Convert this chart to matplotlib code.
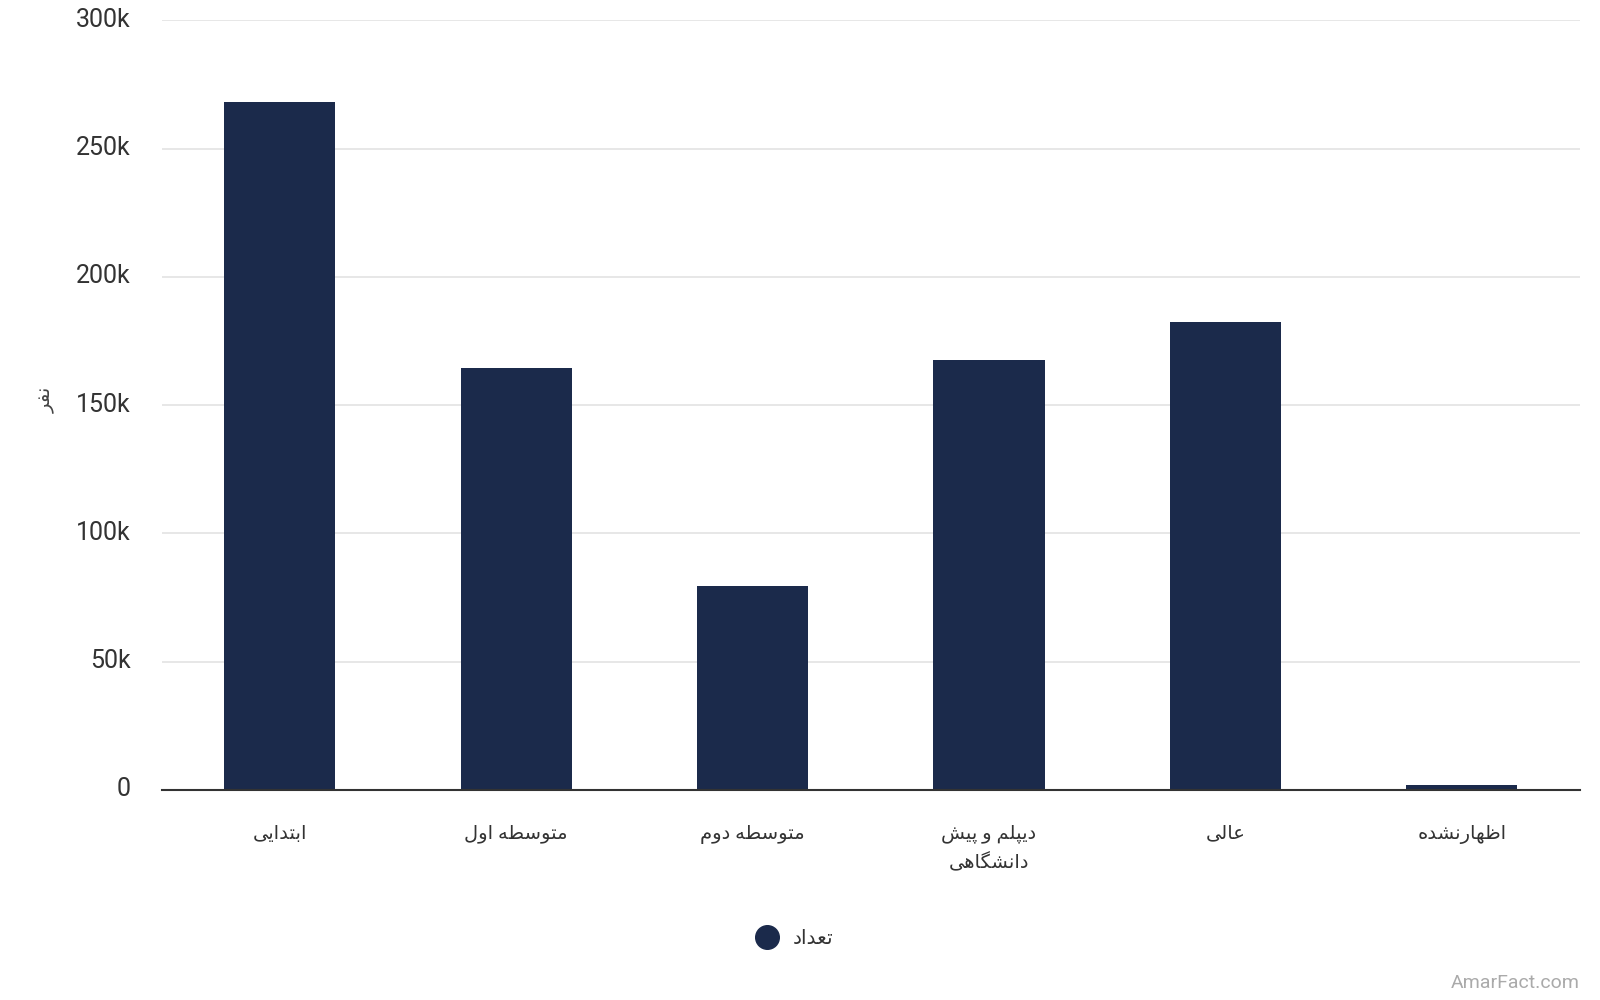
import matplotlib
matplotlib.use("Agg")
import matplotlib.pyplot as plt
import matplotlib.transforms as mtransforms
from matplotlib.ticker import FuncFormatter
from matplotlib.lines import Line2D

plt.rcParams['font.family'] = ['Roboto', 'DejaVu Sans']

# data
categories = ["ابتدایی", "متوسطه اول", "متوسطه دوم", "دیپلم و پیش\nدانشگاهی", "عالی", "اظهارنشده"]
counts = [268000, 164500, 79500, 167500, 182500, 2000]
y_ticks = [0, 50000, 100000, 150000, 200000, 250000, 300000]
series_name = "تعداد"
y_title = "نفر"
watermark = "AmarFact.com"

# minimal persian shaping (no arabic_reshaper available)
# letter: (isolated, final, initial, medial); None initial = right-joining only
FORMS = {
    'ا': ('\uFE8D', '\uFE8E', None, None),
    'ب': ('\uFE8F', '\uFE90', '\uFE91', '\uFE92'),
    'ت': ('\uFE95', '\uFE96', '\uFE97', '\uFE98'),
    'د': ('\uFEA9', '\uFEAA', None, None),
    'ر': ('\uFEAD', '\uFEAE', None, None),
    'س': ('\uFEB1', '\uFEB2', '\uFEB3', '\uFEB4'),
    'ش': ('\uFEB5', '\uFEB6', '\uFEB7', '\uFEB8'),
    'ط': ('\uFEC1', '\uFEC2', '\uFEC3', '\uFEC4'),
    'ظ': ('\uFEC5', '\uFEC6', '\uFEC7', '\uFEC8'),
    'ع': ('\uFEC9', '\uFECA', '\uFECB', '\uFECC'),
    'ف': ('\uFED1', '\uFED2', '\uFED3', '\uFED4'),
    'ل': ('\uFEDD', '\uFEDE', '\uFEDF', '\uFEE0'),
    'م': ('\uFEE1', '\uFEE2', '\uFEE3', '\uFEE4'),
    'ن': ('\uFEE5', '\uFEE6', '\uFEE7', '\uFEE8'),
    'ه': ('\uFEE9', '\uFEEA', '\uFEEB', '\uFEEC'),
    'و': ('\uFEED', '\uFEEE', None, None),
    'ی': ('\uFBFC', '\uFBFD', '\uFBFE', '\uFBFF'),
    'پ': ('\uFB56', '\uFB57', '\uFB58', '\uFB59'),
    'گ': ('\uFB92', '\uFB93', '\uFB94', '\uFB95'),
}


def shape_line(s):
    out = []
    for i, c in enumerate(s):
        if c not in FORMS:
            out.append(c)
            continue
        prev = s[i - 1] if i > 0 else None
        nxt = s[i + 1] if i + 1 < len(s) else None
        join_prev = prev in FORMS and FORMS[prev][2] is not None
        join_next = nxt in FORMS and FORMS[c][2] is not None
        iso, fin, ini, med = FORMS[c]
        if join_prev and join_next:
            out.append(med)
        elif join_prev:
            out.append(fin)
        elif join_next:
            out.append(ini)
        else:
            out.append(iso)
    return ''.join(out)[::-1]


def fa(s):
    return '\n'.join(shape_line(l) for l in s.split('\n'))


fig = plt.figure(figsize=(16, 10), dpi=100)
ax = fig.add_axes([0.101, 0.21, 0.8865, 0.7696])

x = range(len(categories))
ax.bar(x, counts, width=0.47, color='#1b2a4b', zorder=3)

ax.set_xlim(-0.5, len(categories) - 0.5)
ax.set_ylim(0, 300000)
ax.set_yticks(y_ticks)
ax.yaxis.set_major_formatter(FuncFormatter(lambda v, p: '0' if v == 0 else '%dk' % (v / 1000)))
ax.grid(axis='y', color='#e3e3e3', linewidth=1.2, zorder=0)
ax.set_xticks(list(x))
ax.set_xticklabels([fa(c) for c in categories], fontsize=14, color='#333333', linespacing=1.6)
ax.tick_params(axis='y', length=0, pad=22, labelsize=18, labelcolor='#333333')
ax.tick_params(axis='x', length=0, pad=25)
shift = mtransforms.ScaledTranslation(0, 3 / 100, fig.dpi_scale_trans)
for lbl in ax.get_yticklabels():
    lbl.set_horizontalalignment('right')
    lbl.set_transform(lbl.get_transform() + shift)

for side in ['top', 'right', 'left']:
    ax.spines[side].set_visible(False)
ax.spines['bottom'].set_color('#333333')
ax.spines['bottom'].set_linewidth(1.5)
ax.spines['bottom'].set_zorder(4)

fig.text(0.029, 0.6, fa(y_title), rotation=90, fontsize=14, color='#444444',
         ha='center', va='center')

handle = Line2D([], [], marker='o', linestyle='none', markersize=17,
                markerfacecolor='#1b2a4b', markeredgecolor='#1b2a4b')
fig.legend([handle], [fa(series_name)], loc='center', bbox_to_anchor=(0.494, 0.061),
           frameon=False, fontsize=14.5, handletextpad=0.3, labelcolor='#333333')

fig.text(0.9875, 0.017, watermark, fontsize=14, color='#aaaaaa', ha='right', va='center')

fig.savefig('out.png', dpi=100)
